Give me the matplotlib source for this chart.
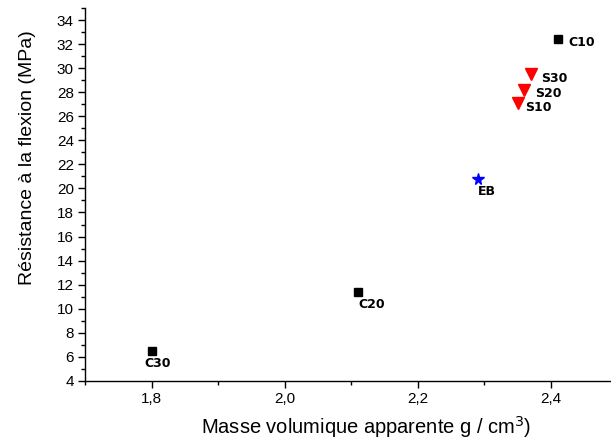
import matplotlib
matplotlib.use("Agg")
import matplotlib.pyplot as plt
from matplotlib.ticker import MultipleLocator, FuncFormatter

plt.rcParams['font.family'] = ['Liberation Sans', 'DejaVu Sans']

# Control mixes (squares)
c_names = ["C30", "C20", "C10"]
c_density = [1.80, 2.11, 2.41]
c_strength = [6.5, 11.4, 32.4]

# Reference concrete (star)
eb_names = ["EB"]
eb_density = [2.29]
eb_strength = [20.8]

# Substituted mixes (triangles)
s_names = ["S10", "S20", "S30"]
s_density = [2.35, 2.36, 2.37]
s_strength = [27.1, 28.2, 29.5]

fig = plt.figure(figsize=(6.11, 4.46), dpi=100)
ax = fig.add_axes([0.139, 0.146, 0.861, 0.836])

ax.plot(c_density, c_strength, 's', color='black', markersize=6, linestyle='none')
ax.plot(eb_density, eb_strength, '*', color='blue', markersize=8.5, linestyle='none')
ax.plot(s_density, s_strength, 'v', color='red', markersize=8, linestyle='none')

lbl = dict(fontsize=9, fontweight='bold', family='DejaVu Sans', textcoords='offset points')
offsets = {"C30": (-5, -9), "C20": (0, -9.4), "C10": (8, -2.5),
           "EB": (0, -9.4), "S10": (5, -3), "S20": (8, -3),
           "S30": (7, -3)}
for names, xs, ys in ((c_names, c_density, c_strength),
                      (eb_names, eb_density, eb_strength),
                      (s_names, s_density, s_strength)):
    for n, x, y in zip(names, xs, ys):
        dx, dy = offsets[n]
        ax.annotate(n, (x, y), xytext=(dx, dy), ha='left', va='center', **lbl)

ax.set_xlim(1.70, 2.49)
ax.set_ylim(4, 35)
ax.xaxis.set_major_locator(MultipleLocator(0.2))
ax.xaxis.set_minor_locator(MultipleLocator(0.1))
ax.yaxis.set_major_locator(MultipleLocator(2))
ax.yaxis.set_minor_locator(MultipleLocator(1))
ax.xaxis.set_major_formatter(FuncFormatter(lambda v, p: f"{v:.1f}".replace('.', ',')))

for s in ('top', 'right'):
    ax.spines[s].set_visible(False)
for s in ('left', 'bottom'):
    ax.spines[s].set_linewidth(1.0)
ax.tick_params(which='major', direction='out', length=5, width=1, labelsize=11, pad=3)
ax.tick_params(which='minor', direction='out', length=3, width=1)

ax.set_xlabel("Masse volumique apparente g / cm$^{3}$)", fontsize=14.5, labelpad=6, x=0.534)
ax.set_ylabel("Résistance à la flexion (MPa)", fontsize=14, labelpad=15, y=0.6)

fig.savefig("out.png", dpi=100)
